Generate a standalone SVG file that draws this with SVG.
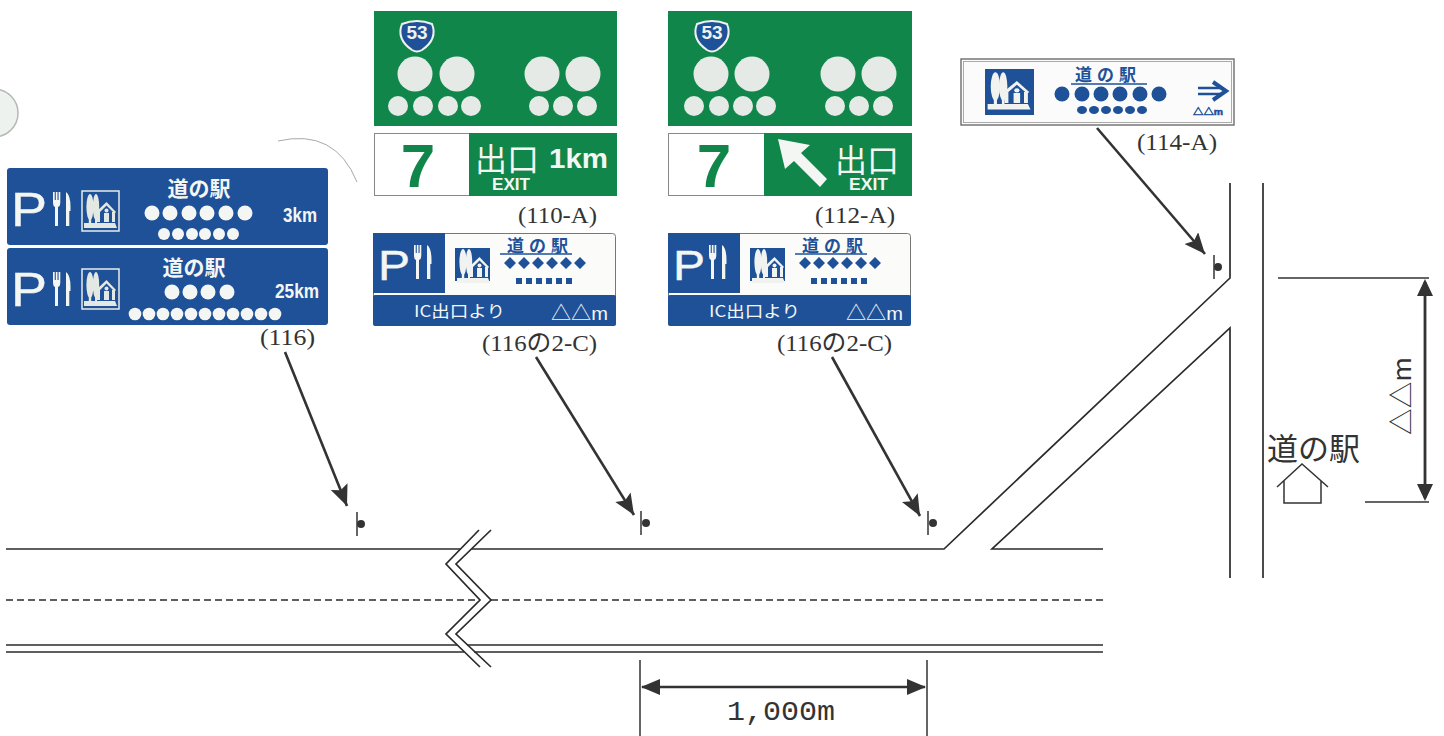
<svg xmlns="http://www.w3.org/2000/svg" width="1444" height="736" viewBox="0 0 1444 736">
<style>
.road{fill:none;stroke:#2b2b2b;stroke-width:1.7}
.thin{fill:none;stroke:#333;stroke-width:1.500}
.lead{fill:none;stroke:#333;stroke-width:2.600;marker-end:url(#ah)}
.ref{font-family:"Liberation Serif","Noto Sans CJK JP",serif;font-size:24px;fill:#333}
.blue{fill:#1f5199}.green{fill:#10864a}
.w{fill:#f4f6f4}
.s{font-family:"Liberation Sans","Noto Sans CJK JP",sans-serif}
.cjk{font-family:"Noto Sans CJK JP",sans-serif}
.b{font-weight:700}
.mid{text-anchor:middle}
.bt{fill:#1f5199}
.fat{stroke:#f4f6f4;stroke-width:.4}
</style>
<defs>
<marker id="ah" markerUnits="userSpaceOnUse" markerWidth="24" markerHeight="20" refX="21" refY="9" orient="auto"><path d="M0 0L21 9L0 18L4 9Z" fill="#333"/></marker>
<g id="forkknife"><path d="M0 0h1.700v8h1.100v-8h1.700v8h1.100v-8h1.700v11q0 3-2.300 4v19h-3v-19q-2-1-2-4Z"/><path d="M13 0q4.500 3 4.500 15v4h-1.200v15h-3.300Z"/></g>
<g id="ic"><ellipse cx="8" cy="15" rx="3.600" ry="13"/><ellipse cx="14" cy="15" rx="3.200" ry="13"/><path d="M6.800 26h2.400v6h-2.400zM13 26h2v6h-2zM2 31h31l2 5H2z"/><path d="M15 19L24.500 10L34 20L32.500 21.500L24.500 13.500L18 20v10h-3zM30 20h3v10h-3zM22 21h5v9h-5z"/><circle cx="24.500" cy="18.500" r="2"/></g>
<path id="shield" d="M-15-12Q0-18 15-12Q21 3 5 14Q0 17-5 14Q-21 3-15-12Z"/>
</defs>
<rect width="1444" height="736" fill="#fff"/>
<g id="scan-marks">
<circle cx="-6" cy="113" r="24" fill="#eef2ee" stroke="#b5b8b5" stroke-width="1.500"/>
<path d="M278 141Q335 128 357 182" fill="none" stroke="#a8a8a8" stroke-width="1"/>
</g>
<g id="sign-116">
<rect class="blue" x="7" y="168" width="321" height="77" rx="3"/>
<rect class="blue" x="7" y="248" width="321" height="77" rx="3"/>
<g class="w">
<text class="s fat" x="11" y="226" font-size="49" textLength="36" lengthAdjust="spacingAndGlyphs">P</text>
<use href="#forkknife" x="53" y="192" fill="#f4f6f4"/>
<text class="cjk b mid" x="199" y="196" font-size="21">道の駅</text>
<g><circle cx="152" cy="213" r="7.500"/><circle cx="170" cy="213" r="7.500"/><circle cx="189" cy="213" r="7.500"/><circle cx="207" cy="213" r="7.500"/><circle cx="226" cy="213" r="7.500"/><circle cx="245" cy="213" r="7.500"/></g>
<g><circle cx="164" cy="234" r="6"/><circle cx="178" cy="234" r="6"/><circle cx="192" cy="234" r="6"/><circle cx="205" cy="234" r="6"/><circle cx="219" cy="234" r="6"/><circle cx="233" cy="234" r="6"/></g>
<text class="s b" x="283" y="222" font-size="21" textLength="34" lengthAdjust="spacingAndGlyphs">3km</text>
<text class="s fat" x="11" y="306" font-size="49" textLength="36" lengthAdjust="spacingAndGlyphs">P</text>
<use href="#forkknife" x="53" y="272" fill="#f4f6f4"/>
<text class="cjk b mid" x="194" y="275" font-size="21">道の駅</text>
<g><circle cx="172" cy="292" r="7.500"/><circle cx="190" cy="292" r="7.500"/><circle cx="208" cy="292" r="7.500"/><circle cx="227" cy="292" r="7.500"/></g>
<g><circle cx="135" cy="314" r="6.300"/><circle cx="149" cy="314" r="6.300"/><circle cx="163" cy="314" r="6.300"/><circle cx="177" cy="314" r="6.300"/><circle cx="191" cy="314" r="6.300"/><circle cx="205" cy="314" r="6.300"/><circle cx="219" cy="314" r="6.300"/><circle cx="233" cy="314" r="6.300"/><circle cx="247" cy="314" r="6.300"/><circle cx="261" cy="314" r="6.300"/><circle cx="275" cy="314" r="6.300"/></g>
<text class="s b" x="275" y="298" font-size="21" textLength="44" lengthAdjust="spacingAndGlyphs">25km</text>
</g>
<rect x="82" y="191" width="37" height="40" fill="#1f5199" stroke="#e8ece8" stroke-width="1.500"/>
<use href="#ic" x="82" y="192" fill="#e3e8e3"/>
<rect x="82" y="269" width="37" height="40" fill="#1f5199" stroke="#e8ece8" stroke-width="1.500"/>
<use href="#ic" x="82" y="270" fill="#e3e8e3"/>
<text class="ref" x="260" y="345" textLength="55" lengthAdjust="spacingAndGlyphs">(116)</text>
</g>
<g id="sign-110-A">
<rect class="green" x="374" y="11" width="243" height="115"/>
<use href="#shield" x="417" y="36" fill="#1f5199" stroke="#eef2ee" stroke-width="2"/>
<text class="s b mid" x="417" y="39" font-size="19" fill="#eef2ee">53</text>
<g fill="#e6eae6"><circle cx="415" cy="74" r="17.500"/><circle cx="457" cy="74" r="17.500"/><circle cx="542" cy="74" r="17.500"/><circle cx="583" cy="74" r="17.500"/><circle cx="398" cy="106" r="10"/><circle cx="423" cy="106" r="10"/><circle cx="448" cy="106" r="10"/><circle cx="471" cy="106" r="10"/><circle cx="539" cy="106" r="10"/><circle cx="563" cy="106" r="10"/><circle cx="587" cy="106" r="10"/></g>
<rect x="374.500" y="133.500" width="95" height="62" fill="#fff" stroke="#888" stroke-width="1"/>
<rect class="green" x="469" y="133" width="148" height="63"/>
<text class="s b mid green" x="418" y="187" font-size="62">7</text>
<text class="cjk w" x="475" y="171" font-size="32">出口</text>
<text class="s b w" x="549" y="168" font-size="28" textLength="59" lengthAdjust="spacingAndGlyphs">1km</text>
<text class="s b w" x="492" y="190" font-size="17" textLength="38" lengthAdjust="spacingAndGlyphs">EXIT</text>
<text class="ref" x="518" y="223" textLength="79" lengthAdjust="spacingAndGlyphs">(110-A)</text>
</g>
<g id="sign-112-A">
<rect class="green" x="668" y="11" width="244" height="115"/>
<use href="#shield" x="712" y="36" fill="#1f5199" stroke="#eef2ee" stroke-width="2"/>
<text class="s b mid" x="712" y="39" font-size="19" fill="#eef2ee">53</text>
<g fill="#e6eae6"><circle cx="711" cy="74" r="17.500"/><circle cx="752" cy="74" r="17.500"/><circle cx="838" cy="74" r="17.500"/><circle cx="879" cy="74" r="17.500"/><circle cx="694" cy="106" r="10"/><circle cx="719" cy="106" r="10"/><circle cx="743" cy="106" r="10"/><circle cx="766" cy="106" r="10"/><circle cx="835" cy="106" r="10"/><circle cx="859" cy="106" r="10"/><circle cx="883" cy="106" r="10"/></g>
<rect x="668.500" y="133.500" width="96" height="62" fill="#fff" stroke="#888" stroke-width="1"/>
<rect class="green" x="764" y="133" width="148" height="63"/>
<text class="s b mid green" x="714" y="187" font-size="62">7</text>
<path class="w" d="M778 139L810 145L801 153L827 179L820 187L794 161L785 169Z"/>
<text class="cjk w" x="835" y="172" font-size="32">出口</text>
<text class="s b w" x="849" y="190" font-size="17" textLength="39" lengthAdjust="spacingAndGlyphs">EXIT</text>
<text class="ref" x="815" y="223" textLength="80" lengthAdjust="spacingAndGlyphs">(112-A)</text>
</g>
<g id="sign-116-2C-a">
<rect x="373.500" y="233.500" width="242" height="92" rx="3" fill="#fbfcfa" stroke="#777" stroke-width="1"/>
<rect class="blue" x="373" y="233" width="72" height="60"/>
<rect class="blue" x="373" y="295" width="243" height="31" rx="2"/>
<text class="s w fat" x="378" y="280" font-size="42" textLength="32" lengthAdjust="spacingAndGlyphs">P</text>
<use href="#forkknife" x="414" y="245" fill="#f4f6f4"/>
<rect class="blue" x="455" y="248" width="35" height="33"/>
<use href="#ic" x="455" y="247" fill="#f0f3f0"/>
<text class="cjk b mid bt" x="540" y="252" font-size="17" letter-spacing="5">道の駅</text>
<path d="M500 254H572" fill="none" stroke="#1f5199" stroke-width="1.500"/>
<g class="bt"><path d="M510 257l6 6l-6 6l-6-6ZM524 257l6 6l-6 6l-6-6ZM538 257l6 6l-6 6l-6-6ZM552 257l6 6l-6 6l-6-6ZM566 257l6 6l-6 6l-6-6ZM580 257l6 6l-6 6l-6-6Z"/><path d="M516 278h6v6h-6zM526 278h6v6h-6zM536 278h6v6h-6zM546 278h6v6h-6zM556 278h6v6h-6zM566 278h6v6h-6z"/></g>
<text class="cjk w" x="414" y="317" font-size="16" textLength="91" lengthAdjust="spacingAndGlyphs">IC出口より</text>
<text class="s w" x="551" y="320" font-size="19" textLength="57" lengthAdjust="spacingAndGlyphs">△△m</text>
<text class="ref" x="482" y="351" textLength="115" lengthAdjust="spacingAndGlyphs">(116の2-C)</text>
</g>
<g id="sign-116-2C-b">
<rect x="668.500" y="233.500" width="242" height="92" rx="3" fill="#fbfcfa" stroke="#777" stroke-width="1"/>
<rect class="blue" x="668" y="233" width="72" height="60"/>
<rect class="blue" x="668" y="295" width="243" height="31" rx="2"/>
<text class="s w fat" x="673" y="280" font-size="42" textLength="32" lengthAdjust="spacingAndGlyphs">P</text>
<use href="#forkknife" x="709" y="245" fill="#f4f6f4"/>
<rect class="blue" x="750" y="248" width="35" height="33"/>
<use href="#ic" x="750" y="247" fill="#f0f3f0"/>
<text class="cjk b mid bt" x="835" y="252" font-size="17" letter-spacing="5">道の駅</text>
<path d="M795 254H867" fill="none" stroke="#1f5199" stroke-width="1.500"/>
<g class="bt"><path d="M805 257l6 6l-6 6l-6-6ZM819 257l6 6l-6 6l-6-6ZM833 257l6 6l-6 6l-6-6ZM847 257l6 6l-6 6l-6-6ZM861 257l6 6l-6 6l-6-6ZM875 257l6 6l-6 6l-6-6Z"/><path d="M811 278h6v6h-6zM821 278h6v6h-6zM831 278h6v6h-6zM841 278h6v6h-6zM851 278h6v6h-6zM861 278h6v6h-6z"/></g>
<text class="cjk w" x="709" y="317" font-size="16" textLength="91" lengthAdjust="spacingAndGlyphs">IC出口より</text>
<text class="s w" x="846" y="320" font-size="19" textLength="57" lengthAdjust="spacingAndGlyphs">△△m</text>
<text class="ref" x="777" y="351" textLength="115" lengthAdjust="spacingAndGlyphs">(116の2-C)</text>
</g>
<g id="sign-114-A">
<rect x="961" y="59" width="273" height="66" fill="#fafbfa" stroke="#777" stroke-width="1.500"/>
<rect x="963.500" y="61.500" width="268" height="61" fill="none" stroke="#aaa" stroke-width="1"/>
<rect class="blue" x="985" y="69" width="49" height="46"/>
<use href="#ic" transform="translate(985 70) scale(1.300 1.100)" fill="#f0f3f0"/>
<text class="cjk b mid bt" x="1108" y="81" font-size="17" letter-spacing="5">道の駅</text>
<path d="M1071 84H1147" fill="none" stroke="#1f5199" stroke-width="1.500"/>
<g class="bt"><circle cx="1062" cy="94" r="7.500"/><circle cx="1082" cy="94" r="7.500"/><circle cx="1101" cy="94" r="7.500"/><circle cx="1120" cy="94" r="7.500"/><circle cx="1140" cy="94" r="7.500"/><circle cx="1159" cy="94" r="7.500"/><ellipse cx="1082" cy="110" rx="5" ry="4"/><ellipse cx="1094" cy="110" rx="5" ry="4"/><ellipse cx="1106" cy="110" rx="5" ry="4"/><ellipse cx="1118" cy="110" rx="5" ry="4"/><ellipse cx="1130" cy="110" rx="5" ry="4"/><ellipse cx="1142" cy="110" rx="5" ry="4"/></g>
<path d="M1198 88H1222M1198 94H1222" fill="none" stroke="#1f5199" stroke-width="2.500"/>
<path d="M1213 82L1226 91L1213 100" fill="none" stroke="#1f5199" stroke-width="4"/>
<text class="s b bt" x="1193" y="115" font-size="9" textLength="30" lengthAdjust="spacingAndGlyphs" stroke="#1f5199" stroke-width=".5">△△m</text>
<text class="ref" x="1137" y="150" textLength="80" lengthAdjust="spacingAndGlyphs">(114-A)</text>
</g>
<g id="posts" fill="#333" stroke="#333">
<g id="post-1"><path d="M357 512V536" stroke-width="1.500"/><circle cx="361" cy="524" r="4" stroke="none"/></g>
<g id="post-2"><path d="M641 511V535" stroke-width="1.500"/><circle cx="646" cy="523" r="4" stroke="none"/></g>
<g id="post-3"><path d="M928 511V535" stroke-width="1.500"/><circle cx="933" cy="523" r="4" stroke="none"/></g>
<g id="post-4"><path d="M1214 255V279" stroke-width="1.500"/><circle cx="1218" cy="267" r="4" stroke="none"/></g>
</g>
<g id="connectors">
<path class="lead" d="M285 352L347 506"/>
<path class="lead" d="M536 357L634 515"/>
<path class="lead" d="M832 357L920 516"/>
<path class="lead" d="M1097 128L1205 254"/>
</g>
<g id="road">
<path class="road" d="M6 549H460M472 549H944L1230 278V183"/>
<path class="road" d="M1103 549H992L1230 328V578"/>
<path class="road" d="M1263 183V578"/>
<path d="M6 600H480M491 600H1103" fill="none" stroke="#2b2b2b" stroke-width="1.500" stroke-dasharray="7 4"/>
<path class="road" d="M6 645H457M467 645H1103M6 652H464M474 652H1103"/>
<path class="road" d="M479 530L446 564L480 600L446 634L480 667"/>
<path class="road" d="M491 530L456 564L491 600L456 634L491 667"/>
</g>
<g id="dim-1000">
<path class="thin" d="M640 660V736M927 660V736"/>
<path d="M642 687H925" fill="none" stroke="#333" stroke-width="2.500"/>
<path d="M641 687L660 679V695ZM926 687L907 679V695Z" fill="#333"/>
<text x="727" y="720" font-family="Liberation Mono, monospace" font-size="27" fill="#333" textLength="108" lengthAdjust="spacingAndGlyphs">1,000m</text>
</g>
<g id="dim-dd">
<path class="thin" d="M1278 278H1429M1365 502H1429"/>
<path d="M1425 282V498" fill="none" stroke="#333" stroke-width="2.800"/>
<path d="M1425 279L1417 296H1433ZM1425 501L1417 484H1433Z" fill="#333"/>
<text class="cjk" transform="translate(1411 435) rotate(-90)" font-size="26" fill="#333" textLength="78" lengthAdjust="spacingAndGlyphs">△△m</text>
</g>
<g id="station">
<text class="cjk" x="1267" y="460" font-size="31" fill="#333">道の駅</text>
<path class="thin" d="M1277 487L1302 464L1328 487M1284 481V503H1321V481"/>
</g>
</svg>
